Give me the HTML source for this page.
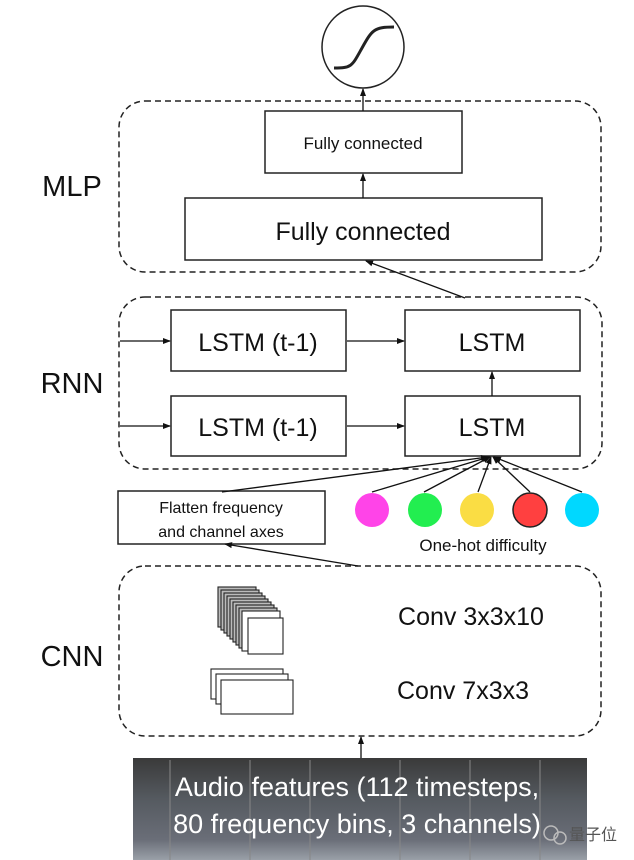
<!DOCTYPE html>
<html><head><meta charset="utf-8"><style>
html,body{margin:0;padding:0;background:#fff;}
svg{display:block;font-family:"Liberation Sans","Noto Sans CJK SC",sans-serif;}
</style></head><body>
<svg width="634" height="860" viewBox="0 0 634 860" xmlns="http://www.w3.org/2000/svg">
<defs>
<marker id="a" markerWidth="8" markerHeight="8" refX="7" refY="4" orient="auto" markerUnits="userSpaceOnUse">
<path d="M0,1 L8,4 L0,7 z" fill="#111"/></marker>
<linearGradient id="sp" x1="0" y1="0" x2="0" y2="1">
<stop offset="0" stop-color="#3a3a3a"/><stop offset="0.4" stop-color="#555a60"/><stop offset="0.8" stop-color="#6a6e78"/><stop offset="1" stop-color="#9aa0a8"/></linearGradient>
</defs>
<g fill="none" stroke="#222" stroke-width="1.5">
<circle cx="363" cy="47" r="41" stroke-width="1.5"/>
<path d="M334,68 C352,68 352,66 362,48 C372,30 374,27 394,27" stroke-width="3"/>
<rect x="119" y="101" width="482" height="171" rx="26" stroke-dasharray="6,4"/>
<rect x="119" y="297" width="483" height="172" rx="26" stroke-dasharray="6,4"/>
<rect x="119" y="566" width="482" height="170" rx="26" stroke-dasharray="6,4"/>
<rect x="265" y="111" width="197" height="62"/>
<rect x="185" y="198" width="357" height="62"/>
<rect x="171" y="310" width="175" height="61"/>
<rect x="405" y="310" width="175" height="61"/>
<rect x="171" y="396" width="175" height="60"/>
<rect x="405" y="396" width="175" height="60"/>
<rect x="118" y="491" width="207" height="53"/>
</g>
<g stroke="#111" stroke-width="1.3" fill="none" marker-end="url(#a)">
<line x1="363" y1="111" x2="363" y2="89"/>
<line x1="363" y1="198" x2="363" y2="174"/>
<line x1="465" y1="298" x2="366" y2="261"/>
<line x1="120" y1="341" x2="170" y2="341"/>
<line x1="120" y1="426" x2="170" y2="426"/>
<line x1="347" y1="341" x2="404" y2="341"/>
<line x1="347" y1="426" x2="404" y2="426"/>
<line x1="492" y1="396" x2="492" y2="372"/>
<line x1="222" y1="492" x2="488" y2="457"/>
<line x1="372" y1="492" x2="489" y2="457"/>
<line x1="424" y1="492" x2="490" y2="457"/>
<line x1="478" y1="492" x2="491" y2="457"/>
<line x1="530" y1="492" x2="493" y2="457"/>
<line x1="582" y1="492" x2="494" y2="457"/>
<line x1="358" y1="566" x2="225" y2="544"/>
<line x1="361" y1="758" x2="361" y2="737"/>
</g>
<circle cx="372" cy="510" r="17" fill="#ff44e8"/>
<circle cx="425" cy="510" r="17" fill="#22ee50"/>
<circle cx="477" cy="510" r="17" fill="#fadd44"/>
<circle cx="530" cy="510" r="17" fill="#ff4040" stroke="#222" stroke-width="1.5"/>
<circle cx="582" cy="510" r="17" fill="#00d8ff"/>
<g fill="#fff" stroke="#222" stroke-width="1.1">
<rect x="218" y="587" width="38" height="40" fill="#bbb"/>
<rect x="221" y="590" width="38" height="40" fill="#bbb"/>
<rect x="224" y="593" width="38" height="40" fill="#bbb"/>
<rect x="227" y="596" width="38" height="40" fill="#bbb"/>
<rect x="230" y="599" width="38" height="40" fill="#bbb"/>
<rect x="233" y="602" width="38" height="40" fill="#bbb"/>
<rect x="236" y="605" width="38" height="40" fill="#bbb"/>
<rect x="239" y="608" width="38" height="40" fill="#bbb"/>
<rect x="242" y="611" width="38" height="40" fill="#fff"/>
<rect x="248" y="618" width="35" height="36"/>
<rect x="211" y="669" width="72" height="30"/>
<rect x="216" y="674" width="72" height="30"/>
<rect x="221" y="680" width="72" height="34"/>
</g>
<rect x="133" y="758" width="454" height="102" fill="url(#sp)"/>
<g stroke="#888" stroke-width="2" opacity="0.5">
<line x1="170" y1="760" x2="170" y2="860"/><line x1="250" y1="760" x2="250" y2="860"/>
<line x1="310" y1="760" x2="310" y2="860"/><line x1="400" y1="760" x2="400" y2="860"/>
<line x1="470" y1="760" x2="470" y2="860"/><line x1="540" y1="760" x2="540" y2="860"/>
</g>
<g fill="#111" text-anchor="middle">
<text x="363" y="149" font-size="17">Fully connected</text>
<text x="363" y="240" font-size="25">Fully connected</text>
<text x="258" y="351" font-size="25">LSTM (t-1)</text>
<text x="492" y="351" font-size="25">LSTM</text>
<text x="258" y="436" font-size="25">LSTM (t-1)</text>
<text x="492" y="436" font-size="25">LSTM</text>
<text x="221" y="513" font-size="16">Flatten frequency</text>
<text x="221" y="537" font-size="16">and channel axes</text>
<text x="483" y="551" font-size="17">One-hot difficulty</text>
<text x="471" y="625" font-size="25">Conv 3x3x10</text>
<text x="463" y="699" font-size="25">Conv 7x3x3</text>
<text x="72" y="196" font-size="29">MLP</text>
<text x="72" y="393" font-size="29">RNN</text>
<text x="72" y="666" font-size="29">CNN</text>
</g>
<g fill="#fff" text-anchor="middle" font-size="27">
<text x="357" y="796">Audio features (112 timesteps,</text>
<text x="357" y="833">80 frequency bins, 3 channels)</text>
</g>
<circle cx="551" cy="833" r="7" fill="none" stroke="#bbb" stroke-width="1.5"/>
<circle cx="560" cy="838" r="6" fill="none" stroke="#bbb" stroke-width="1.5"/>
<text x="569" y="840" font-size="16" fill="#555" font-family="Noto Sans CJK SC, sans-serif">量子位</text>
</svg>
</body></html>
